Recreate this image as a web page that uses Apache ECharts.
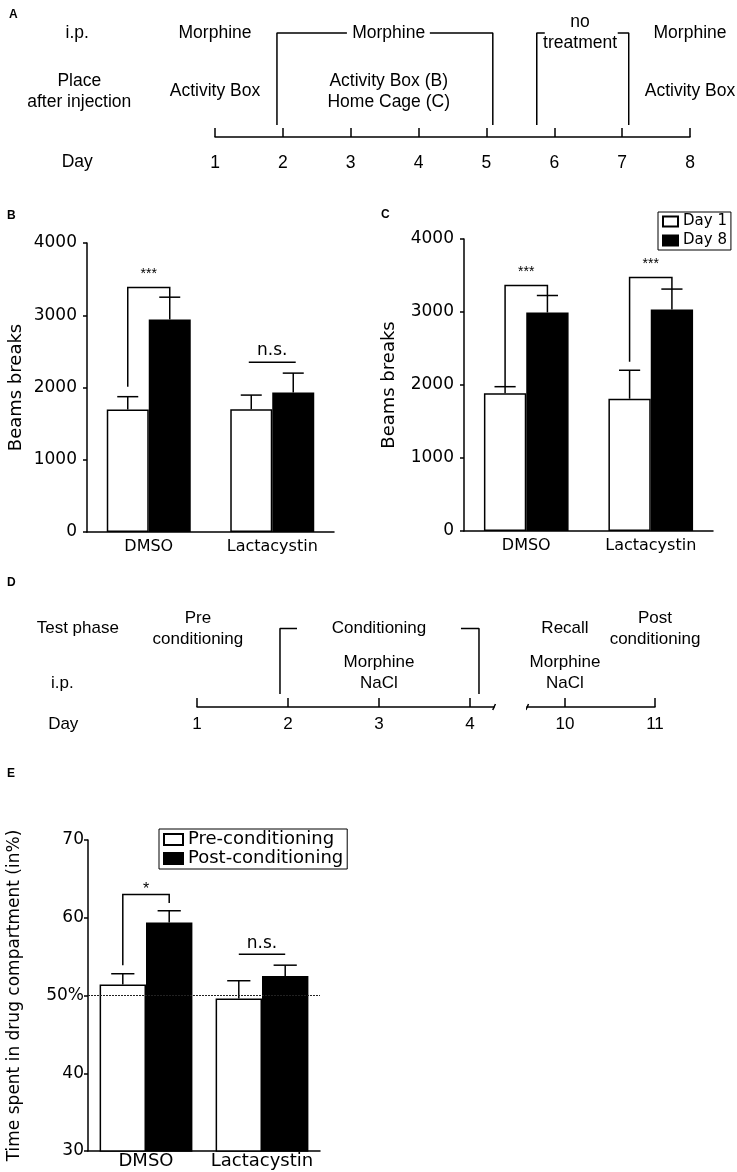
<!DOCTYPE html>
<html>
<head>
<meta charset="utf-8">
<script src="https://cdn.jsdelivr.net/npm/echarts@6/dist/echarts.min.js"></script>
<style>
html, body { margin: 0; padding: 0; background: #fff; }
#main { width: 737px; height: 1172px; }
</style>
</head>
<body>
<div id="main"></div>
<script>
// 数据
var groups = ['DMSO', 'Lactacystin'];

// B: activity box, beam breaks
var bDay1 = [1697, 1700];
var bDay1Sem = [176, 195];
var bDay8 = [2942, 1932];
var bDay8Sem = [308, 267];

// C: home cage, beam breaks
var cDay1 = [1886, 1812];
var cDay1Sem = [91, 390];
var cDay8 = [2993, 3034];
var cDay8Sem = [233, 280];

// E: time in drug compartment (%)
var ePre = [51.4, 49.6];
var ePreSem = [1.4, 2.3];
var ePost = [59.4, 52.5];
var ePostSem = [1.5, 1.4];

// brackets: [group, left foot, right foot, top, label]
var bSig = [[0, 2010, 3250, 3385, '***']];
var bNs = [[1, 2351, 'n.s.']];
var cSig = [[0, 1977, 3226, 3363, '***'], [1, 2320, 3314, 3473, '***']];
var eSig = [[0, 53.9, 61.9, 63.0, '*']];
var eNs = [[1, 55.3, 'n.s.']];

// timeline A
var daysA = [1, 2, 3, 4, 5, 6, 7, 8];
var textA = [
    ['i.p.', -1.03, 'top'],
    ['Morphine', 1, 'top'],
    ['Morphine', 3.56, 'top'],
    ['no\ntreatment', 6.38, 'top'],
    ['Morphine', 8, 'top'],
    ['Place\nafter injection', -1.0, 'mid'],
    ['Activity Box', 1, 'mid'],
    ['Activity Box (B)\nHome Cage (C)', 3.56, 'mid'],
    ['Activity Box', 8, 'mid'],
    ['Day', -1.03, 'day']
];
var bracketsA = [
    [[2.944, 'top'], [1.913, 'top'], [1.913, 'foot']],
    [[4.166, 'top'], [5.094, 'top'], [5.094, 'foot']],
    [[5.86, 'top'], [5.742, 'top'], [5.742, 'foot']],
    [[6.935, 'top'], [7.097, 'top'], [7.097, 'foot']]
];
var rowsA = { top: 104, mid: 45.5, day: -25, foot: 12 };

// timeline D (axis broken between day 4 and day 10)
var daysD1 = [1, 2, 3, 4];
var daysD2 = [10, 11];
var textD1 = [
    ['Test phase', -0.31, 'top'],
    ['i.p.', -0.48, 'ip'],
    ['Day', -0.47, 'day'],
    ['Pre\nconditioning', 1.01, 'top'],
    ['Conditioning', 3, 'top'],
    ['Morphine\nNaCl', 3, 'drug']
];
var textD2 = [
    ['Recall', 10, 'top'],
    ['Morphine\nNaCl', 10, 'drug'],
    ['Post\nconditioning', 11, 'top']
];
var bracketsD = [
    [[2.099, 'top'], [1.912, 'top'], [1.912, 'foot']],
    [[3.901, 'top'], [4.099, 'top'], [4.099, 'foot']]
];
var rowsD = { top: 78.5, ip: 24, drug: 34.5, day: -17, foot: 13 };

var sans = 'Liberation Sans, Arial, sans-serif';
var wide = 'DejaVu Sans, Verdana, sans-serif';
var black = '#000';

var myChart = echarts.init(document.getElementById('main'));

function textSeries(gi, items, rows, size) {
    return {
        type: 'scatter', xAxisIndex: gi, yAxisIndex: gi, silent: true, clip: false,
        symbolSize: 0, itemStyle: { color: black, opacity: 1 },
        label: {
            show: true, position: 'inside', formatter: '{b}', color: black, opacity: 1,
            textBorderWidth: 0, fontSize: size, fontFamily: sans, lineHeight: 21, align: 'center'
        },
        data: items.map(function (t) { return { name: t[0], value: [t[1], rows[t[2]]] }; })
    };
}

function bracketSeries(gi, brackets, rows) {
    return brackets.map(function (b) {
        return {
            type: 'line', xAxisIndex: gi, yAxisIndex: gi, silent: true, clip: false,
            symbol: 'none', lineStyle: { color: black, width: 1.5 },
            data: b.map(function (p) { return [p[0], rows[p[1]]]; })
        };
    });
}

function barPair(gi, names, a, b, frac) {
    return [
        { type: 'bar', name: names[0], xAxisIndex: gi, yAxisIndex: gi, data: a, barWidth: frac * 100 + '%', barGap: '0%',
          itemStyle: { color: '#fff', borderColor: black, borderWidth: 1.5 }, silent: true },
        { type: 'bar', name: names[1], xAxisIndex: gi, yAxisIndex: gi, data: b, barWidth: frac * 100 + '%', barGap: '0%',
          itemStyle: { color: black, borderColor: black, borderWidth: 1.5 }, silent: true }
    ];
}

// 误差线 (only upward)
function errorSeries(gi, means, sems, side, frac) {
    return {
        type: 'custom', xAxisIndex: gi, yAxisIndex: gi, silent: true, z: 3,
        renderItem: function (params, api) {
            var band = api.size([1, 0])[0];
            var m = api.coord([api.value(0), api.value(1)]);
            var t = api.coord([api.value(0), api.value(1) + api.value(2)]);
            var x = m[0] + side * band * frac / 2;
            var cap = band * frac / 4;
            var st = { stroke: black, lineWidth: 1.5 };
            return { type: 'group', children: [
                { type: 'line', shape: { x1: x, y1: m[1], x2: x, y2: t[1] }, style: st },
                { type: 'line', shape: { x1: x - cap, y1: t[1], x2: x + cap, y2: t[1] }, style: st }
            ] };
        },
        data: means.map(function (v, i) { return [i, v, sems[i]]; })
    };
}

function sigSeries(gi, items, frac, starSize, lift) {
    return {
        type: 'custom', xAxisIndex: gi, yAxisIndex: gi, silent: true, z: 4,
        renderItem: function (params, api) {
            var band = api.size([1, 0])[0];
            var off = band * frac / 2;
            var c = api.coord([api.value(0), api.value(3)]);
            var l = api.coord([api.value(0), api.value(1)]);
            var r = api.coord([api.value(0), api.value(2)]);
            return { type: 'group', children: [
                { type: 'polyline', shape: { points: [[c[0] - off, l[1]], [c[0] - off, c[1]], [c[0] + off, c[1]], [c[0] + off, r[1]]] },
                  style: { stroke: black, lineWidth: 1.5, fill: 'none' } },
                { type: 'text', x: c[0], y: c[1] + lift,
                  style: { text: items[params.dataIndex][4], fill: black, fontSize: starSize, fontFamily: sans, align: 'center', verticalAlign: 'middle' } }
            ] };
        },
        data: items.map(function (d) { return [d[0], d[1], d[2], d[3]]; })
    };
}

function nsSeries(gi, items, frac, lift) {
    return {
        type: 'custom', xAxisIndex: gi, yAxisIndex: gi, silent: true, z: 4,
        renderItem: function (params, api) {
            var band = api.size([1, 0])[0];
            var off = band * frac / 2;
            var c = api.coord([api.value(0), api.value(1)]);
            return { type: 'group', children: [
                { type: 'line', shape: { x1: c[0] - off, y1: c[1], x2: c[0] + off, y2: c[1] }, style: { stroke: black, lineWidth: 1.5 } },
                { type: 'text', x: c[0], y: c[1] + lift,
                  style: { text: items[params.dataIndex][2], fill: black, fontSize: 17, fontFamily: wide, align: 'center', verticalAlign: 'middle' } }
            ] };
        },
        data: items.map(function (d) { return [d[0], d[1]]; })
    };
}

function timeAxis(gi, min, max, days, size, margin) {
    return {
        gridIndex: gi, type: 'value', min: min, max: max,
        axisLine: { onZero: false, lineStyle: { color: black, width: 1.5 } },
        axisTick: { inside: true, length: 9, customValues: days, lineStyle: { color: black, width: 1.5 } },
        axisLabel: { customValues: days, margin: margin, color: black, fontSize: size, fontFamily: sans },
        splitLine: { show: false }
    };
}

function catAxis(gi, size, margin) {
    return {
        gridIndex: gi, type: 'category', data: groups,
        axisLine: { lineStyle: { color: black, width: 1.5 } },
        axisTick: { show: false },
        axisLabel: { interval: 0, margin: margin, color: black, fontSize: size, fontFamily: wide }
    };
}

function valAxis(gi, min, max, interval, name, nameSize, nameGap, labelMargin, lift, fmt) {
    return {
        gridIndex: gi, type: 'value', min: min, max: max, interval: interval,
        name: name, nameLocation: 'middle', nameGap: nameGap,
        nameTextStyle: { color: black, fontSize: nameSize, fontFamily: wide },
        axisLine: { show: true, lineStyle: { color: black, width: 1.5 } },
        axisTick: { show: true, length: 4, lineStyle: { color: black, width: 1.5 } },
        axisLabel: { margin: labelMargin, color: black, fontSize: 17, fontFamily: wide, padding: [0, 0, lift, 0],
                     formatter: fmt || function (v) { return String(v); } },
        splitLine: { show: false }
    };
}

var option = {
    animation: false,
    backgroundColor: '#fff',
    grid: [
        { left: 215, top: 0, width: 475, height: 137 },
        { left: 87, top: 243, width: 247, height: 289 },
        { left: 464, top: 239, width: 249, height: 292 },
        { left: 197, top: 600, width: 297, height: 107 },
        { left: 527, top: 600, width: 128, height: 107 },
        { left: 88, top: 840, width: 232, height: 311 }
    ],
    xAxis: [
        timeAxis(0, 1, 8, daysA, 17.5, 17),
        catAxis(1, 16, 7),
        catAxis(2, 16, 7),
        timeAxis(3, 1, 4.264, daysD1, 17, 9),
        timeAxis(4, 9.578, 11, daysD2, 17, 9),
        catAxis(5, 18, 1)
    ],
    yAxis: [
        { gridIndex: 0, type: 'value', min: 0, max: 137, show: false },
        valAxis(1, 0, 4000, 1000, 'Beams breaks', 18, 62, 10, 10),
        valAxis(2, 0, 4000, 1000, 'Beams breaks', 18, 66, 10, 6),
        { gridIndex: 3, type: 'value', min: 0, max: 107, show: false },
        { gridIndex: 4, type: 'value', min: 0, max: 107, show: false },
        valAxis(5, 30, 70, 10, 'Time spent in drug compartment (in%)', 17, 65, 4, 10,
            function (v) { return v === 50 ? '50%' : String(v); })
    ],
    legend: [
        { data: ['Day 1', 'Day 8'], orient: 'vertical', left: 658, top: 212, padding: [0, 4],
          itemWidth: 15, itemHeight: 10, itemGap: 0, icon: 'rect', selectedMode: false,
          borderColor: black, borderWidth: 1,
          textStyle: { color: black, fontSize: 15, fontFamily: wide, lineHeight: 19 } },
        { data: ['Pre-conditioning', 'Post-conditioning'], orient: 'vertical', left: 159, top: 829, padding: [1, 4],
          itemWidth: 19, itemHeight: 11, itemGap: 0, icon: 'rect', selectedMode: false,
          borderColor: black, borderWidth: 1,
          textStyle: { color: black, fontSize: 18, fontFamily: wide, lineHeight: 19 } }
    ],
    graphic: [
        { type: 'text', x: 9, y: 9, style: { text: 'A', font: 'bold 12px Arial', fill: black } },
        { type: 'text', x: 7, y: 210, style: { text: 'B', font: 'bold 12px Arial', fill: black } },
        { type: 'text', x: 381, y: 209, style: { text: 'C', font: 'bold 12px Arial', fill: black } },
        { type: 'text', x: 7, y: 577, style: { text: 'D', font: 'bold 12px Arial', fill: black } },
        { type: 'text', x: 7, y: 768, style: { text: 'E', font: 'bold 12px Arial', fill: black } }
    ],
    series: []
};

var s = option.series;
// A
s.push(textSeries(0, textA, rowsA, 17.5));
s.push.apply(s, bracketSeries(0, bracketsA, rowsA));
// B
s.push.apply(s, barPair(1, ['Day 1', 'Day 8'], bDay1, bDay8, 0.34));
s.push(errorSeries(1, bDay1, bDay1Sem, -1, 0.34));
s.push(errorSeries(1, bDay8, bDay8Sem, 1, 0.34));
s.push(sigSeries(1, bSig, 0.34, 14, -13));
s.push(nsSeries(1, bNs, 0.38, -12));
// C
s.push.apply(s, barPair(2, ['Day 1', 'Day 8'], cDay1, cDay8, 0.34));
s.push(errorSeries(2, cDay1, cDay1Sem, -1, 0.34));
s.push(errorSeries(2, cDay8, cDay8Sem, 1, 0.34));
s.push(sigSeries(2, cSig, 0.34, 14, -13));
// D
s.push(textSeries(3, textD1, rowsD, 17));
s.push(textSeries(4, textD2, rowsD, 17));
s.push.apply(s, bracketSeries(3, bracketsD, rowsD));
s.push({
    type: 'line', xAxisIndex: 3, yAxisIndex: 3, silent: true, clip: false, symbol: 'none',
    lineStyle: { color: black, width: 1.5 }, data: [[4.25, -3], [4.28, 3]]
});
s.push({
    type: 'line', xAxisIndex: 4, yAxisIndex: 4, silent: true, clip: false, symbol: 'none',
    lineStyle: { color: black, width: 1.5 }, data: [[9.565, -3], [9.595, 3]]
});
// E
var eBars = barPair(5, ['Pre-conditioning', 'Post-conditioning'], ePre, ePost, 0.4);
eBars[0].markLine = {
    silent: true, symbol: 'none', label: { show: false },
    lineStyle: { color: '#222', width: 1, type: [2, 1] },
    data: [{ yAxis: 50 }]
};
s.push.apply(s, eBars);
s.push(errorSeries(5, ePre, ePreSem, -1, 0.4));
s.push(errorSeries(5, ePost, ePostSem, 1, 0.4));
s.push(sigSeries(5, eSig, 0.4, 16, -5));
s.push(nsSeries(5, eNs, 0.4, -11));

myChart.setOption(option);
</script>
</body>
</html>
